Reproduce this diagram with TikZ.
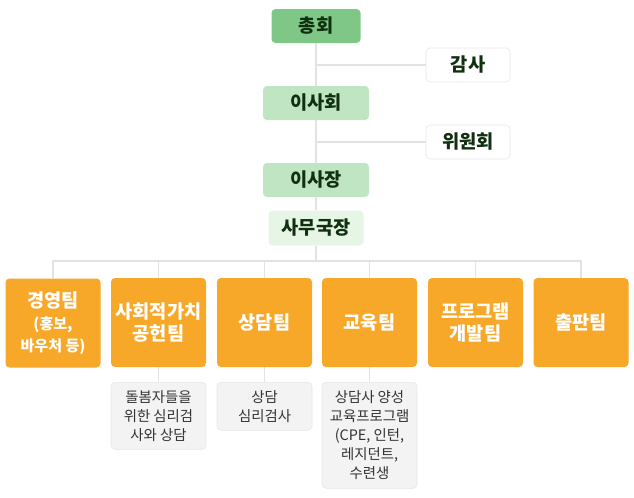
\documentclass[tikz,border=0pt]{standalone}
\usepackage{fontspec}
\setmainfont{Noto Sans CJK KR}
\usetikzlibrary{backgrounds}
\definecolor{greenA}{HTML}{7EC786}
\definecolor{greenB}{HTML}{C0E5C2}
\definecolor{greenC}{HTML}{E6F5E6}
\definecolor{darktxt}{HTML}{10300F}
\definecolor{teamor}{HTML}{F8A829}
\definecolor{subgray}{HTML}{F3F3F3}
\definecolor{edgegray}{HTML}{E6E6E6}
\definecolor{linegray}{HTML}{E3E3E3}
\newcommand\notetxt{\fontsize{11.3}{14}\selectfont}
\tikzset{
  orgbox/.style={rounded corners=3pt, align=center, inner sep=1pt, font=\bfseries\fontsize{14}{16}\selectfont, text=darktxt},
  headbox/.style={orgbox, fill=greenA, minimum width=66.75pt, minimum height=25.5pt},
  boardbox/.style={orgbox, fill=greenB, minimum width=79.5pt, minimum height=25.5pt},
  officebox/.style={orgbox, fill=greenC, minimum width=71.25pt, minimum height=26.25pt},
  sidebox/.style={orgbox, fill=white, draw=edgegray, minimum width=63pt, minimum height=25.5pt},
  teambox/.style={orgbox, fill=teamor, text=white, minimum width=71.25pt, minimum height=66.75pt, font=\bfseries\fontsize{14}{16.5}\selectfont},
  subbox/.style={rounded corners=3pt, align=center, fill=subgray, draw=edgegray, text=black!80, anchor=north, minimum width=71.25pt, inner sep=1pt, font=\fontsize{10.8}{14.25}\selectfont},
  link/.style={draw=linegray, line width=1.2pt}
}
\begin{document}
\begin{tikzpicture}[x=0.75pt, y=-0.75pt]
\useasboundingbox (0,0) rectangle (634,497);
% governance
\node[headbox] (chonghoe) at (316,26) {총회};
\node[sidebox] (gamsa) at (468,65) {감사};
\node[boardbox] (isahoe) at (316,103) {이사회};
\node[sidebox] (wiwon) at (468,142) {위원회};
\node[boardbox] (isajang) at (316,180) {이사장};
\node[officebox] (samu) at (316,228) {사무국장};
\coordinate (bus) at (316,261);
% teams
\node[teambox] (mgmt) at (53,323) {경영팀\\\notetxt{}(홍보,\\\notetxt{}바우처 등)};
\node[teambox] (social) at (158.5,322.5) {사회적가치\\공헌팀};
\node[teambox] (counsel) at (264.5,322.5) {상담팀};
\node[teambox] (edu) at (369.5,322.5) {교육팀};
\node[teambox] (prog) at (475.5,322.5) {프로그램\\개발팀};
\node[teambox] (pub) at (581,322.5) {출판팀};
% team tasks
\node[subbox, minimum height=50.25pt] (socialsub) at (158.5,382) {돌봄자들을\\위한 심리검\\사와 상담};
\node[subbox, minimum height=36pt] (counselsub) at (264.5,382) {상담\\심리검사};
\node[subbox, minimum height=79.5pt] (edusub) at (369.5,382) {상담사 양성\\교육프로그램\\(CPE, 인턴,\\레지던트,\\수련생};
% connectors
\begin{scope}[on background layer]
\draw[link] (chonghoe) -- (isahoe) -- (isajang) -- (samu) -- (bus);
\draw[link] (gamsa.west) -- (gamsa.west -| chonghoe);
\draw[link] (wiwon.west) -- (wiwon.west -| isahoe);
\foreach \t in {mgmt,social,counsel,edu,prog,pub}
  \draw[link] (\t.north) |- (bus);
\draw[link] (social) -- (socialsub);
\draw[link] (counsel) -- (counselsub);
\draw[link] (edu) -- (edusub);
\end{scope}
\end{tikzpicture}
\end{document}
